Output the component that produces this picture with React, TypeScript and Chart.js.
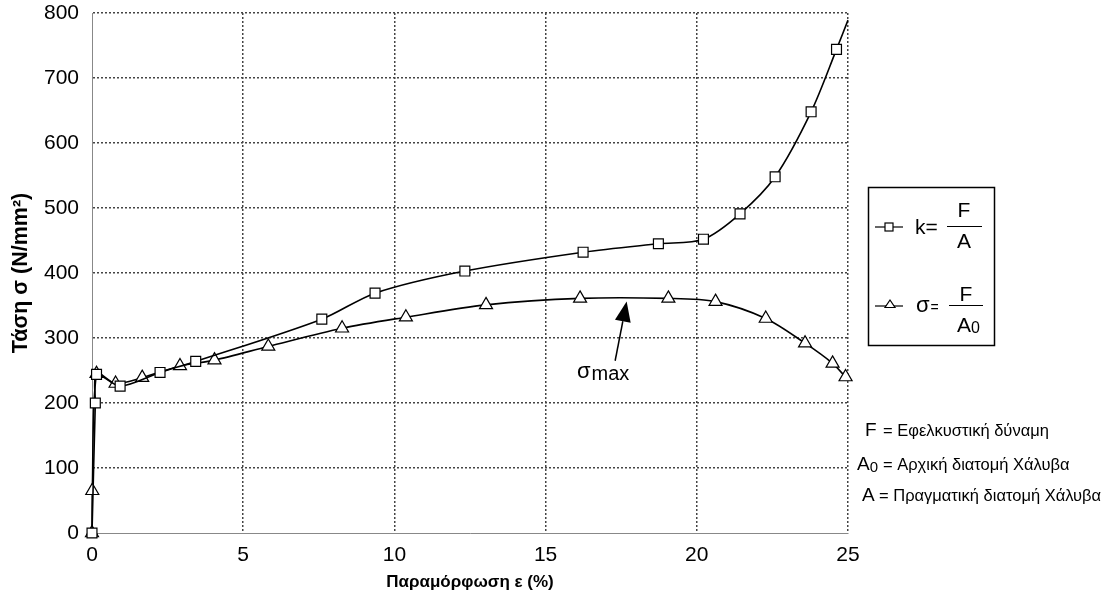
import React, { useEffect, useRef } from "react";
import { Chart, registerables } from "chart.js";

Chart.register(...registerables);

// ---- data ----
const xTicks = [0, 5, 10, 15, 20, 25];
const yTicks = [0, 100, 200, 300, 400, 500, 600, 700, 800];

// true stress k = F/A
const kStrain = [0, 0.11, 0.15, 0.93, 2.25, 3.43, 7.6, 9.36, 12.33, 16.24, 18.73, 20.22, 21.43, 22.59, 23.78, 24.62, 25.0];
const kStress = [0, 200, 244, 226, 247, 264, 329, 369, 403, 432, 445, 452, 491, 548, 648, 744, 789];

// engineering stress σ = F/A0
const sigmaStrain = [0, 0.01, 0.15, 0.78, 1.66, 2.91, 4.05, 5.83, 8.27, 10.38, 13.03, 16.14, 19.06, 20.62, 22.28, 23.58, 24.49, 24.92];
const sigmaStress = [0, 65, 245, 230, 239, 257, 266, 287, 315, 332, 351, 361, 361, 356, 330, 292, 261, 240];

// σmax arrow (data coordinates)
const arrowTip = { x: 17.68, y: 356 };
const arrowTail = { x: 17.3, y: 265 };

const FONT = "'Liberation Sans', Arial, sans-serif";

function txt(ctx: CanvasRenderingContext2D, s: string, x: number, y: number, size: number, align: CanvasTextAlign = "left", bold = false) {
  ctx.font = `${bold ? "bold " : ""}${size}px ${FONT}`;
  ctx.textAlign = align;
  ctx.textBaseline = "alphabetic";
  ctx.fillStyle = "#000";
  ctx.fillText(s, x, y);
  return ctx.measureText(s).width;
}

const overlayPlugin = {
  id: "overlay",
  afterDraw(chart: any) {
    const ctx: CanvasRenderingContext2D = chart.ctx;
    const xs = chart.scales.x;
    const ys = chart.scales.y;
    ctx.save();

    // σmax arrow + label
    const tx = xs.getPixelForValue(arrowTip.x);
    const ty = ys.getPixelForValue(arrowTip.y);
    const bx = xs.getPixelForValue(arrowTail.x);
    const by = ys.getPixelForValue(arrowTail.y);
    const ang = Math.atan2(ty - by, tx - bx);
    const headLen = 20;
    const headW = 8;
    const hx = tx - Math.cos(ang) * headLen;
    const hy = ty - Math.sin(ang) * headLen;
    ctx.strokeStyle = "#000";
    ctx.lineWidth = 1.5;
    ctx.beginPath();
    ctx.moveTo(bx, by);
    ctx.lineTo(hx, hy);
    ctx.stroke();
    ctx.fillStyle = "#000";
    ctx.beginPath();
    ctx.moveTo(tx, ty);
    ctx.lineTo(hx + Math.sin(ang) * headW, hy - Math.cos(ang) * headW);
    ctx.lineTo(hx - Math.sin(ang) * headW, hy + Math.cos(ang) * headW);
    ctx.closePath();
    ctx.fill();
    const w = txt(ctx, "σ", 577, 378, 22);
    txt(ctx, "max", 577 + w + 1, 380, 20);

    // legend box
    ctx.strokeStyle = "#000";
    ctx.lineWidth = 1.5;
    ctx.strokeRect(868.5, 187.5, 126, 158);

    // entry k
    ctx.lineWidth = 1.2;
    ctx.beginPath();
    ctx.moveTo(875, 227);
    ctx.lineTo(903, 227);
    ctx.stroke();
    ctx.fillStyle = "#fff";
    ctx.fillRect(885, 223, 8, 8);
    ctx.strokeRect(885, 223, 8, 8);
    txt(ctx, "k=", 915, 233.5, 21);
    ctx.lineWidth = 1;
    ctx.beginPath();
    ctx.moveTo(947, 226.5);
    ctx.lineTo(982, 226.5);
    ctx.stroke();
    txt(ctx, "F", 964, 217, 21, "center");
    txt(ctx, "A", 964, 247.5, 21, "center");

    // entry σ
    ctx.lineWidth = 1.2;
    ctx.beginPath();
    ctx.moveTo(875, 306);
    ctx.lineTo(903, 306);
    ctx.stroke();
    ctx.fillStyle = "#fff";
    ctx.beginPath();
    ctx.moveTo(890, 300);
    ctx.lineTo(895, 307.5);
    ctx.lineTo(885, 307.5);
    ctx.closePath();
    ctx.fill();
    ctx.stroke();
    const sw = txt(ctx, "σ", 916, 311.5, 22);
    txt(ctx, "=", 916 + sw + 1, 311.5, 14);
    ctx.lineWidth = 1;
    ctx.beginPath();
    ctx.moveTo(949, 305.5);
    ctx.lineTo(983, 305.5);
    ctx.stroke();
    txt(ctx, "F", 966, 301, 21, "center");
    const aw = txt(ctx, "A", 957, 332, 21);
    txt(ctx, "0", 957 + aw, 333, 16);

    // definitions
    txt(ctx, "F", 865, 436, 19);
    txt(ctx, "= Εφελκυστική δύναμη", 883, 436, 16.5);
    const a0 = txt(ctx, "A", 857, 469.5, 19);
    txt(ctx, "0", 857 + a0, 472, 15);
    txt(ctx, "= Αρχική διατομή Χάλυβα", 883, 469.5, 16.5);
    txt(ctx, "A", 862, 500.5, 19);
    txt(ctx, "= Πραγματική διατομή Χάλυβα", 879, 500.5, 16.5);

    ctx.restore();
  },
};

export default function App() {
  const ref = useRef<HTMLCanvasElement | null>(null);

  useEffect(() => {
    document.body.style.margin = "0";
    const canvas = ref.current;
    if (!canvas) return;

    const kData = kStrain.map((x, i) => ({ x, y: kStress[i] }));
    const sData = sigmaStrain.map((x, i) => ({ x, y: sigmaStress[i] }));
    const kRadius = kStrain.map((_, i) => (i === kStrain.length - 1 ? 0 : 7));

    const gridColor = (c: any) => (c.tick && c.tick.value === 0 ? "rgba(0,0,0,0)" : "#444");

    const chart = new Chart(canvas, {
      type: "line",
      data: {
        datasets: [
          {
            label: "k",
            data: kData,
            borderColor: "#000",
            borderWidth: 1.6,
            backgroundColor: "#fff",
            pointStyle: "rect",
            pointRadius: kRadius,
            pointBorderWidth: 1.2,
            pointBorderColor: "#000",
            pointBackgroundColor: "#fff",
            tension: 0.3,
            fill: false,
            clip: false,
          },
          {
            label: "σ",
            data: sData,
            borderColor: "#000",
            borderWidth: 1.6,
            backgroundColor: "#fff",
            pointStyle: "triangle",
            pointRadius: 7.5,
            pointBorderWidth: 1.2,
            pointBorderColor: "#000",
            pointBackgroundColor: "#fff",
            tension: 0.3,
            fill: false,
            clip: false,
          },
        ],
      },
      options: {
        responsive: false,
        animation: false,
        events: [],
        layout: { padding: { top: 13, right: 264, left: 0, bottom: 0 }, autoPadding: false },
        plugins: {
          legend: { display: false },
          tooltip: { enabled: false },
          title: { display: false },
        },
        scales: {
          x: {
            type: "linear",
            min: 0,
            max: 25,
            afterBuildTicks: (s: any) => {
              s.ticks = xTicks.map((v) => ({ value: v }));
            },
            afterFit: (s: any) => {
              s.height = 67;
              s.paddingLeft = 0;
              s.paddingRight = 0;
            },
            ticks: {
              color: "#000",
              font: { family: FONT, size: 21 },
              padding: 10,
              maxRotation: 0,
            },
            grid: {
              color: gridColor,
              lineWidth: 1.5,
              drawTicks: false,
            },
            border: { display: true, color: "#888", width: 1, dash: [2, 2] },
            title: {
              display: true,
              text: "Παραμόρφωση ε (%)",
              color: "#000",
              font: { family: FONT, size: 17, weight: "bold" },
              padding: { top: 0, bottom: 7 },
            },
          },
          y: {
            type: "linear",
            min: 0,
            max: 800,
            afterBuildTicks: (s: any) => {
              s.ticks = yTicks.map((v) => ({ value: v }));
            },
            afterFit: (s: any) => {
              s.width = 92;
              s.paddingTop = 0;
              s.paddingBottom = 0;
            },
            ticks: {
              color: "#000",
              font: { family: FONT, size: 21 },
              padding: 13,
            },
            grid: {
              color: gridColor,
              lineWidth: 1.5,
              drawTicks: false,
            },
            border: { display: true, color: "#888", width: 1, dash: [2, 2] },
            title: {
              display: true,
              text: "Τάση σ (N/mm²)",
              color: "#000",
              font: { family: FONT, size: 21.5, weight: "bold" },
              padding: { top: 8, bottom: 0 },
            },
          },
        },
      } as any,
      plugins: [overlayPlugin],
    });

    return () => chart.destroy();
  }, []);

  return (
    <div style={{ position: "relative", width: 1112, height: 600, background: "#fff" }}>
      <canvas ref={ref} width={1112} height={600} style={{ display: "block" }} />
    </div>
  );
}
